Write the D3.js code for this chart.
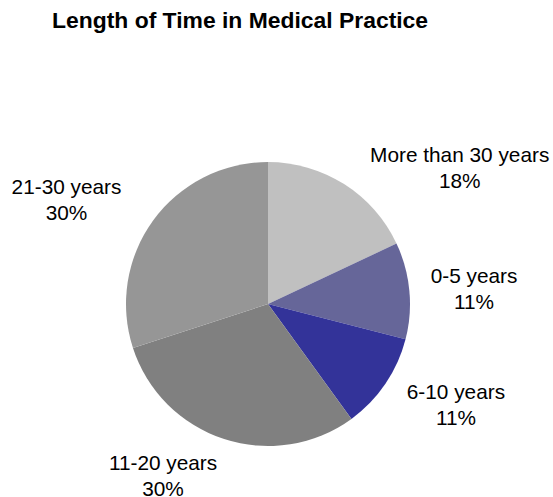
<!DOCTYPE html>
<html>
<head>
<meta charset="utf-8">
<script src="https://cdn.jsdelivr.net/npm/d3@7"></script>
<style>
  html, body { margin: 0; padding: 0; background: #ffffff; }
  svg { display: block; font-family: Arial, "Liberation Sans", sans-serif; }
</style>
</head>
<body>
<svg id="chart" width="553" height="497"></svg>
<script>
// Share of respondents by years in medical practice (clockwise from 12 o'clock)
const categories = ["More than 30 years", "0-5 years", "6-10 years", "11-20 years", "21-30 years"];
const shares = [18, 11, 11, 30, 30];
const sliceColors = ["#c0c0c0", "#666699", "#333399", "#808080", "#969696"];

const width = 553, height = 497;
const cx = 268, cy = 304, radius = 142;
const labelRadius = radius * 1.25;
// small per-label nudges for the callout text blocks
const labelNudge = [[7, 13], [-14, 1], [-8, 0], [4, 2], [-3, -1]];

const svg = d3.select("#chart");

svg.append("text")
  .attr("x", 52)
  .attr("y", 28)
  .attr("font-size", 22.9)
  .attr("font-weight", "bold")
  .attr("fill", "#000")
  .text("Length of Time in Medical Practice");

const data = categories.map((c, i) => ({ name: c, value: shares[i], color: sliceColors[i], i }));

const pie = d3.pie().value(d => d.value).sort(null);
const arcs = pie(data);

const arc = d3.arc().innerRadius(0).outerRadius(radius);
const labelArc = d3.arc().innerRadius(labelRadius).outerRadius(labelRadius);

const g = svg.append("g").attr("transform", `translate(${cx},${cy})`);

g.selectAll("path.slice")
  .data(arcs)
  .join("path")
  .attr("class", "slice")
  .attr("d", arc)
  .attr("fill", d => d.data.color);

const fontSize = 20.8;
const labels = g.selectAll("text.lbl")
  .data(arcs)
  .join("text")
  .attr("class", "lbl")
  .attr("font-size", fontSize)
  .attr("fill", "#000")
  .attr("text-anchor", "middle");

labels.append("tspan").attr("class", "l1").text(d => d.data.name);
labels.append("tspan").attr("class", "l2").text(d => Math.round(d.data.value) + "%");

labels.each(function(d) {
  const el = d3.select(this);
  const w = this.querySelector(".l1").getComputedTextLength();
  const [px, py] = labelArc.centroid(d);
  const side = px >= 0 ? 1 : -1;
  const [nx, ny] = labelNudge[d.data.i];
  const x = px + side * w / 2 + nx;
  const yc = py + ny;
  // two-line block centred vertically on yc
  el.select(".l1").attr("x", x).attr("y", yc - 5);
  el.select(".l2").attr("x", x).attr("y", yc + 21);
});
</script>
</body>
</html>
